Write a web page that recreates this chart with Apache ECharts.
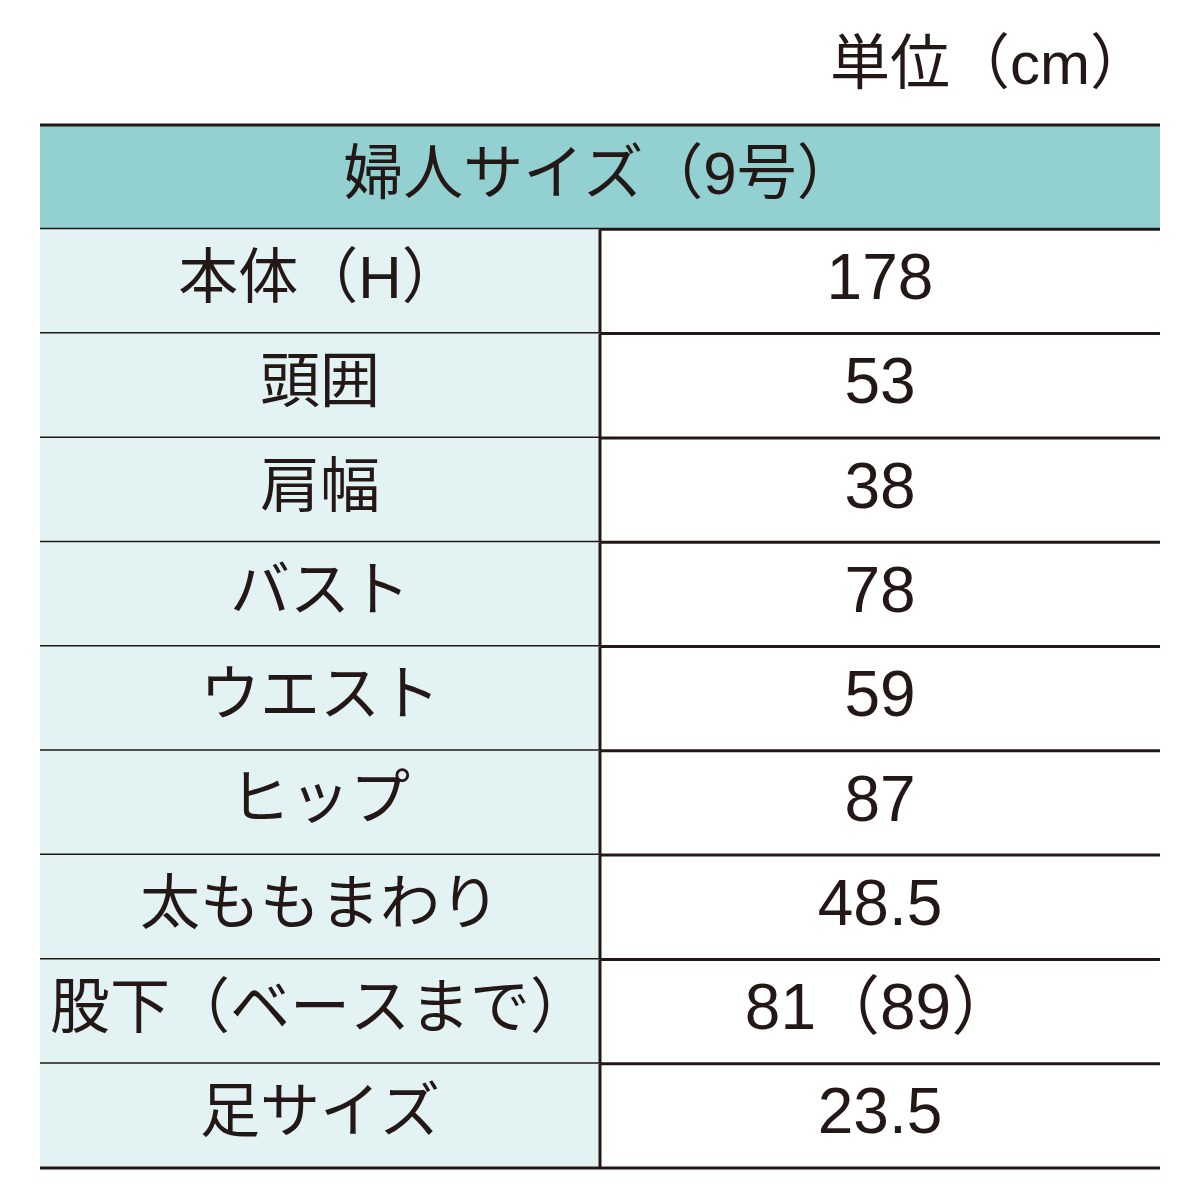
<!DOCTYPE html>
<html>
<head>
<meta charset="utf-8">
<script src="https://cdn.jsdelivr.net/npm/echarts@6/dist/echarts.min.js"></script>
<style>html,body{margin:0;padding:0;background:#fff}#main{width:1200px;height:1200px}</style>
</head>
<body>
<div id="main"></div>
<script>
// 表の中身
var unitText = '単位（cm）';
var headerText = '婦人サイズ（9号）';
var labels = ['本体（H）', '頭囲', '肩幅', 'バスト', 'ウエスト', 'ヒップ', '太ももまわり', '股下（ベースまで）', '足サイズ'];
var values = ['178', '53', '38', '78', '59', '87', '48.5', '81（89）', '23.5'];

var ink = '#231815';
var font = '"Liberation Sans", "Noto Sans CJK JP", sans-serif';

// 行番号 0 = 見出し行
var rows = [0];
for (var i = 0; i < labels.length; i++) rows.push(i + 1);

function renderRow(params, api) {
  var r = api.value(0);
  var c = api.coord([0, r]);
  var h = api.size([0, 1])[1];
  var x0 = api.coord([0, r])[0];
  var x1 = api.coord([1120, r])[0];
  var xm = api.coord([560, r])[0];
  var top = c[1] - h / 2, bot = c[1] + h / 2;
  var kids = [];
  if (r === 0) {
    kids.push({type: 'rect', shape: {x: x0, y: top, width: x1 - x0, height: h}, style: {fill: '#93d0d2'}});
    kids.push({type: 'text', x: (x0 + x1) / 2, y: c[1], style: {text: headerText, fill: ink, font: '60px ' + font, align: 'center', verticalAlign: 'middle'}});
    kids.push({type: 'line', shape: {x1: x0, y1: top, x2: x1, y2: top}, style: {stroke: ink, lineWidth: 3}});
  } else {
    kids.push({type: 'rect', shape: {x: x0, y: top, width: xm - x0, height: h}, style: {fill: '#e3f2f3'}});
    kids.push({type: 'text', x: (x0 + xm) / 2, y: c[1], style: {text: labels[r - 1], fill: ink, font: '60px ' + font, align: 'center', verticalAlign: 'middle'}});
    kids.push({type: 'text', x: (xm + x1) / 2, y: c[1], style: {text: values[r - 1], fill: ink, font: '64px ' + font, align: 'center', verticalAlign: 'middle'}});
    kids.push({type: 'line', shape: {x1: xm, y1: top, x2: xm, y2: bot}, style: {stroke: ink, lineWidth: 3}});
  }
  kids.push({type: 'line', shape: {x1: x0, y1: bot, x2: x1, y2: bot}, style: {stroke: ink, lineWidth: 3}});
  return {type: 'group', children: kids};
}

var chart = echarts.init(document.getElementById('main'));
chart.setOption({
  animation: false,
  title: {
    text: unitText, right: 45, top: 32,
    textStyle: {fontFamily: font, fontSize: 60, fontWeight: 'normal', color: ink}
  },
  grid: {left: 40, right: 40, top: 125, bottom: 32},
  xAxis: {type: 'value', min: 0, max: 1120, show: false},
  yAxis: {type: 'category', data: rows, inverse: true, show: false},
  series: [{
    type: 'custom',
    renderItem: renderRow,
    data: rows.map(function (r) { return [r]; }),
    encode: {y: 0}
  }]
});
</script>
</body>
</html>
